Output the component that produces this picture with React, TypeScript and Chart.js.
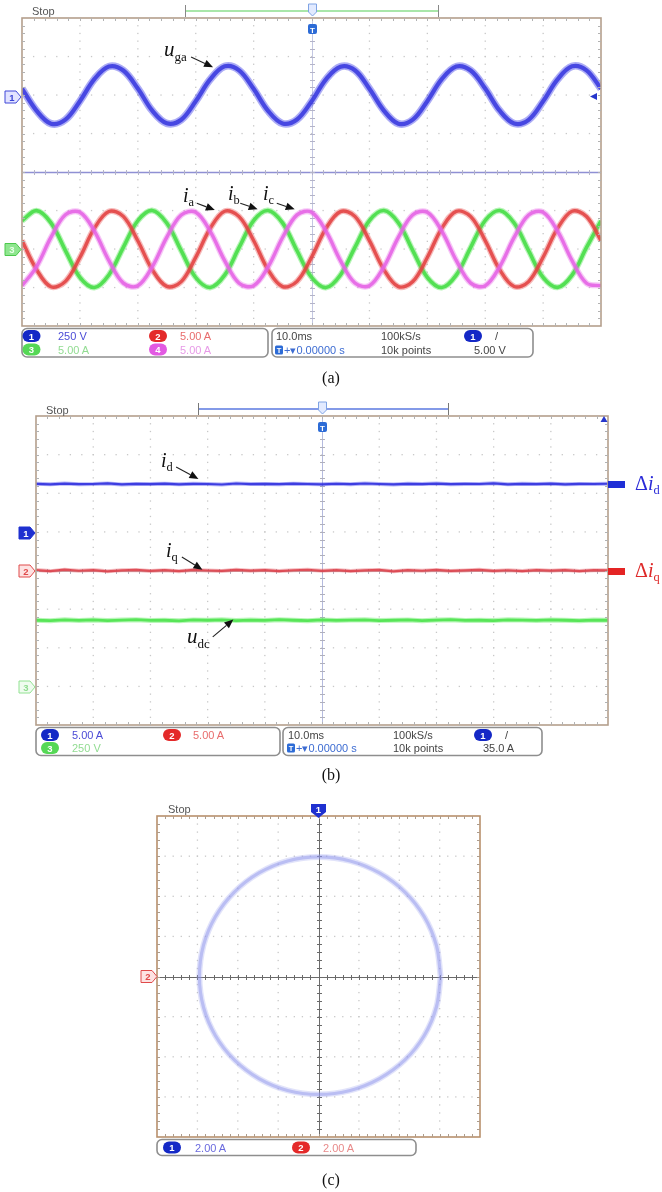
import { useEffect, useRef } from "react";
import { Chart, registerables } from "chart.js";

Chart.register(...registerables);

// Sample instants in ms (10 ms/div, 10 divisions across)
const timeMs = [0, 2.5, 5, 7.5, 10, 12.5, 15, 17.5, 20, 22.5, 25, 27.5, 30, 32.5, 35, 37.5, 40, 42.5, 45, 47.5, 50, 52.5, 55, 57.5, 60, 62.5, 65, 67.5, 70, 72.5, 75, 77.5, 80, 82.5, 85, 87.5, 90, 92.5, 95, 97.5, 100];

// (a) grid phase voltage u_ga [V], 250 V/div
const ugaVolts = [41, -101, -186, -160, -40, 103, 185, 159, 42, -102, -184, -161, -41, 101, 186, 160, 40, -103, -185, -159, -42, 102, 184, 161, 41, -101, -186, -160, -40, 103, 185, 159, 42, -102, -185, -161, -41, 101, 186, 160, 41];
// (a) phase currents [A], 5 A/div
const iaAmps = [1.09, -2.66, -4.9, -4.2, -1.1, 2.7, 4.87, 4.23, 1.07, -2.69, -4.86, -4.24, -1.08, 2.66, 4.9, 4.21, 1.11, -2.7, -4.88, -4.2, -1.09, 2.68, 4.86, 4.24, 1.08, -2.67, -4.89, -4.22, -1.1, 2.69, 4.88, 4.21, 1.09, -2.68, -4.87, -4.23, -1.07, 2.67, 4.9, 4.22, 1.1];
const ibAmps = [3.68, 4.98, 3.4, -0.2, -3.69, -5.0, -3.37, 0.22, 3.67, 5.01, 3.38, -0.21, -3.7, -4.99, -3.4, 0.2, 3.69, 5.0, 3.39, -0.23, -3.67, -5.01, -3.38, 0.21, 3.68, 4.99, 3.41, -0.2, -3.68, -5.0, -3.39, 0.22, 3.7, 5.0, 3.38, -0.21, -3.69, -4.98, -3.4, 0.2, 3.67];
const icAmps = [-4.77, -2.31, 1.5, 4.44, 4.76, 2.33, -1.49, -4.43, -4.78, -2.32, 1.51, 4.42, 4.77, 2.3, -1.5, -4.44, -4.76, -2.33, 1.49, 4.43, 4.78, 2.31, -1.51, -4.42, -4.77, -2.32, 1.5, 4.44, 4.76, 2.33, -1.48, -4.43, -4.77, -2.31, 1.5, 4.42, 4.78, 2.32, -1.5, -4.44, -4.76];

// (b) dq currents [A] and dc-link voltage [V]
const idAmps = [6.22, 6.15, 6.25, 6.18, 6.2, 6.27, 6.14, 6.21, 6.19, 6.24, 6.16, 6.22, 6.2, 6.13, 6.26, 6.19, 6.21, 6.17, 6.24, 6.2, 6.15, 6.23, 6.18, 6.26, 6.2, 6.14, 6.22, 6.19, 6.25, 6.17, 6.21, 6.2, 6.28, 6.16, 6.22, 6.19, 6.24, 6.15, 6.21, 6.2, 6.23];
const iqAmps = [0.05, -0.08, 0.1, -0.03, 0.06, -0.1, 0.02, 0.08, -0.06, 0.04, -0.09, 0.07, 0, -0.05, 0.09, -0.02, 0.05, -0.08, 0.03, 0.1, -0.04, 0.06, -0.07, 0.02, 0.08, -0.1, 0.04, -0.03, 0.07, -0.06, 0.01, 0.09, -0.05, 0.03, -0.08, 0.06, -0.02, 0.05, -0.07, 0.04, 0.02];
const udcVolts = [428, 425, 431, 427, 430, 426, 429, 432, 427, 428, 424, 430, 428, 431, 426, 429, 427, 432, 428, 425, 430, 427, 429, 431, 426, 428, 430, 425, 429, 432, 427, 428, 426, 431, 429, 427, 430, 428, 425, 429, 428];

// (c) XY trajectory of the stationary-frame currents [A], 2 A/div
const circleAlphaAmps = [6.05, 5.84, 5.24, 4.28, 3.02, 1.57, 0, -1.53, -2.95, -4.17, -5.11, -5.7, -5.9, -5.7, -5.11, -4.17, -2.95, -1.53, 0, 1.57, 3.02, 4.28, 5.24, 5.84, 6.05];
const circleBetaAmps = [0, 1.55, 2.98, 4.21, 5.16, 5.76, 5.96, 5.76, 5.16, 4.21, 2.98, 1.55, 0, -1.52, -2.94, -4.16, -5.09, -5.68, -5.88, -5.68, -5.09, -4.16, -2.94, -1.52, 0];

const SANS = "'Liberation Sans', Arial, sans-serif";
const SERIF = "'Liberation Serif', 'Times New Roman', serif";

// Oscilloscope graticule: dotted divisions, centre axes with minor ticks, frame, pointer arrows
const scopeScreen = {
  id: "scopeScreen",
  beforeDatasetsDraw(chart: any, _args: any, o: any) {
    const { ctx, chartArea: a } = chart;
    const nx = o.divX, ny = o.divY;
    const w = a.right - a.left, h = a.bottom - a.top;
    const dx = w / nx, dy = h / ny;
    ctx.save();
    ctx.fillStyle = o.dotColor;
    for (let i = 1; i < nx; i++) {
      if (i * 2 === nx) continue;
      const x = a.left + i * dx;
      for (let k = 1; k < ny * 5; k++) ctx.fillRect(x - 0.6, a.top + (k * dy) / 5 - 0.6, 1.3, 1.3);
    }
    for (let j = 1; j < ny; j++) {
      if (j * 2 === ny) continue;
      const y = a.top + j * dy;
      for (let k = 1; k < nx * 5; k++) ctx.fillRect(a.left + (k * dx) / 5 - 0.6, y - 0.6, 1.3, 1.3);
    }
    const cx = Math.round(a.left + w / 2) + 0.5;
    const cy = Math.round(a.top + h / 2) + 0.5;
    ctx.lineWidth = 1;
    ctx.strokeStyle = o.vAxisColor;
    ctx.beginPath();
    ctx.moveTo(cx, a.top);
    ctx.lineTo(cx, a.bottom);
    ctx.stroke();
    ctx.strokeStyle = o.hAxisColor;
    ctx.lineWidth = o.hAxisWidth || 1;
    ctx.beginPath();
    ctx.moveTo(a.left, cy);
    ctx.lineTo(a.right, cy);
    ctx.stroke();
    ctx.strokeStyle = o.axisTickColor;
    ctx.lineWidth = 1;
    ctx.beginPath();
    for (let k = 1; k < ny * 5; k++) {
      const y = Math.round(a.top + (k * dy) / 5) + 0.5;
      ctx.moveTo(cx - 2.5, y);
      ctx.lineTo(cx + 2.5, y);
    }
    for (let k = 1; k < nx * 5; k++) {
      const x = Math.round(a.left + (k * dx) / 5) + 0.5;
      ctx.moveTo(x, cy - 2.5);
      ctx.lineTo(x, cy + 2.5);
    }
    ctx.stroke();
    ctx.restore();
  },
  afterDatasetsDraw(chart: any, _args: any, o: any) {
    const { ctx, chartArea: a, scales } = chart;
    const nx = o.divX, ny = o.divY;
    const w = a.right - a.left, h = a.bottom - a.top;
    const dx = w / nx, dy = h / ny;
    ctx.save();
    ctx.strokeStyle = o.frameColor;
    ctx.lineWidth = 1.6;
    ctx.strokeRect(a.left, a.top, w, h);
    ctx.lineWidth = 1;
    ctx.beginPath();
    for (let k = 1; k < nx * 5; k++) {
      const x = Math.round(a.left + (k * dx) / 5) + 0.5;
      ctx.moveTo(x, a.top);
      ctx.lineTo(x, a.top + 3);
      ctx.moveTo(x, a.bottom);
      ctx.lineTo(x, a.bottom - 3);
    }
    for (let k = 1; k < ny * 5; k++) {
      const y = Math.round(a.top + (k * dy) / 5) + 0.5;
      ctx.moveTo(a.left, y);
      ctx.lineTo(a.left + 3, y);
      ctx.moveTo(a.right, y);
      ctx.lineTo(a.right - 3, y);
    }
    ctx.strokeStyle = o.tickColor;
    ctx.stroke();
    for (const ar of o.arrows || []) {
      const x1 = scales.x.getPixelForValue(ar.from[0]);
      const y1 = scales.y.getPixelForValue(ar.from[1]);
      const x2 = scales.x.getPixelForValue(ar.to[0]);
      const y2 = scales.y.getPixelForValue(ar.to[1]);
      const ang = Math.atan2(y2 - y1, x2 - x1);
      const hl = 9, hw = 3.8;
      const bx = x2 - hl * Math.cos(ang), by = y2 - hl * Math.sin(ang);
      ctx.strokeStyle = "#222";
      ctx.lineWidth = 1.1;
      ctx.beginPath();
      ctx.moveTo(x1, y1);
      ctx.lineTo(bx, by);
      ctx.stroke();
      ctx.fillStyle = "#111";
      ctx.beginPath();
      ctx.moveTo(x2, y2);
      ctx.lineTo(bx - hw * Math.sin(ang), by + hw * Math.cos(ang));
      ctx.lineTo(bx + hw * Math.sin(ang), by - hw * Math.cos(ang));
      ctx.closePath();
      ctx.fill();
    }
    ctx.restore();
  },
};

function toTrace(xs: number[], ys: number[], perDiv: number, offsetDiv: number) {
  return xs.map((x, i) => ({ x, y: ys[i] / perDiv + offsetDiv }));
}

// A noisy scope trace: soft outer band plus a denser core
function band(data: any[], core: string, halo: string, wCore: number, wHalo: number, tension: number) {
  return [
    { data, borderColor: halo, borderWidth: wHalo, tension, pointRadius: 0, clip: 0, fill: false, showLine: true },
    { data, borderColor: core, borderWidth: wCore, tension, pointRadius: 0, clip: 0, fill: false, showLine: true },
  ];
}

function scopeOptions(padding: any, xr: number[], yr: number[], screen: any) {
  return {
    animation: false,
    responsive: false,
    events: [],
    layout: { padding },
    elements: { point: { radius: 0 } },
    scales: {
      x: { type: "linear", min: xr[0], max: xr[1], display: false },
      y: { type: "linear", min: yr[0], max: yr[1], display: false },
    },
    plugins: { legend: { display: false }, tooltip: { enabled: false }, scopeScreen: screen },
  };
}

function configA() {
  const uga = toTrace(timeMs, ugaVolts, 250, 2);
  const ia = toTrace(timeMs, iaAmps, 5, -2);
  const ib = toTrace(timeMs, ibAmps, 5, -2);
  const ic = toTrace(timeMs, icAmps, 5, -2);
  return {
    type: "line",
    data: {
      datasets: [
        ...band(uga, "rgba(40,40,214,0.85)", "rgba(70,70,232,0.45)", 4.2, 7.5, 0.36),
        ...band(ic, "rgba(226,84,226,0.88)", "rgba(234,118,234,0.42)", 3.4, 6, 0.36),
        ...band(ia, "rgba(222,46,46,0.88)", "rgba(234,92,92,0.42)", 3.4, 6, 0.36),
        ...band(ib, "rgba(54,214,54,0.9)", "rgba(96,230,96,0.45)", 3.6, 6, 0.36),
      ],
    },
    options: scopeOptions({ left: 22, right: 61, top: 18, bottom: 6 }, [0, 100], [-4, 4], {
      divX: 10, divY: 8,
      dotColor: "#c8c8c8", vAxisColor: "#c3c7e2", hAxisColor: "#8f90d4", hAxisWidth: 1.3,
      axisTickColor: "#b4b4c8",
      frameColor: "#b49f8c", tickColor: "#b2b2b2",
      arrows: [
        { from: [29.2, 2.99], to: [33.0, 2.72] },
        { from: [30.2, -0.81], to: [33.3, -0.99] },
        { from: [37.7, -0.81], to: [40.7, -0.97] },
        { from: [44.0, -0.81], to: [47.1, -0.97] },
      ],
    }),
    plugins: [scopeScreen],
  };
}

function configB() {
  const id = toTrace(timeMs, idAmps, 5, 1);
  const iq = toTrace(timeMs, iqAmps, 5, 0);
  const udc = toTrace(timeMs, udcVolts, 250, -3);
  return {
    type: "line",
    data: {
      datasets: [
        ...band(id, "rgba(36,36,214,0.9)", "rgba(70,70,235,0.4)", 2.2, 4, 0),
        ...band(iq, "rgba(214,52,62,0.9)", "rgba(230,90,100,0.4)", 2.2, 4, 0),
        ...band(udc, "rgba(64,222,64,0.92)", "rgba(100,235,100,0.45)", 2.8, 5, 0),
      ],
    },
    options: scopeOptions({ left: 36, right: 54, top: 26, bottom: 5 }, [0, 100], [-4, 4], {
      divX: 10, divY: 8,
      dotColor: "#c8c8c8", vAxisColor: "#b4bade", hAxisColor: "#bdbdbd",
      axisTickColor: "#b0b0bc",
      frameColor: "#b49f8c", tickColor: "#b2b2b2",
      arrows: [
        { from: [24.5, 2.68], to: [28.4, 2.37] },
        { from: [25.5, 0.35], to: [29.1, 0.02] },
        { from: [30.9, -1.72], to: [34.5, -1.27] },
      ],
    }),
    plugins: [scopeScreen],
  };
}

function configC() {
  const loop = circleAlphaAmps.map((x, i) => ({ x, y: circleBetaAmps[i] }));
  return {
    type: "scatter",
    data: {
      datasets: band(loop, "rgba(132,138,232,0.45)", "rgba(156,162,238,0.3)", 3.2, 6, 0.36),
    },
    options: scopeOptions({ left: 157, right: 182, top: 26, bottom: 5 }, [-8, 8], [-8, 8], {
      divX: 8, divY: 8,
      dotColor: "#c8c8c8", vAxisColor: "#6a6a6a", hAxisColor: "#6a6a6a",
      axisTickColor: "#6a6a6a",
      frameColor: "#b8906c", tickColor: "#ad9c8c",
      arrows: [],
    }),
    plugins: [scopeScreen],
  };
}

function ScopeCanvas({ top, height, make }: { top: number; height: number; make: () => any }) {
  const ref = useRef<HTMLCanvasElement>(null);
  useEffect(() => {
    const chart = new Chart(ref.current as HTMLCanvasElement, make() as any);
    return () => chart.destroy();
  }, []);
  return (
    <canvas
      ref={ref}
      width={662}
      height={height}
      style={{ position: "absolute", left: 0, top, width: 662, height, display: "block" }}
    />
  );
}

function Badge({ cx, cy, fill, label }: { cx: number; cy: number; fill: string; label: string }) {
  return (
    <g>
      <rect x={cx - 9} y={cy - 6} width={18} height={12} rx={6} fill={fill} />
      <text x={cx} y={cy + 3.5} textAnchor="middle" fontSize={9.5} fontWeight="bold" fill="#fff" fontFamily={SANS}>
        {label}
      </text>
    </g>
  );
}

function RightMarker({ x, cy, fill, stroke, color, label }: any) {
  const pts = `${x},${cy - 6} ${x + 11},${cy - 6} ${x + 16},${cy} ${x + 11},${cy + 6} ${x},${cy + 6}`;
  return (
    <g>
      <polygon points={pts} fill={fill} stroke={stroke} strokeWidth={1} />
      <text x={x + 7} y={cy + 3.5} textAnchor="middle" fontSize={9.5} fontWeight="bold" fill={color} fontFamily={SANS}>
        {label}
      </text>
    </g>
  );
}

function TrigMarker({ cx, top }: { cx: number; top: number }) {
  return (
    <g>
      <polygon
        points={`${cx - 4},${top} ${cx + 4},${top} ${cx + 4},${top + 8} ${cx},${top + 12} ${cx - 4},${top + 8}`}
        fill="#e2eaff"
        stroke="#7fa3e4"
        strokeWidth={1}
      />
      <rect x={cx - 4.5} y={top + 20} width={9} height={10} rx={2} fill="#2c6bd6" />
      <text x={cx} y={top + 28.5} textAnchor="middle" fontSize={8} fontWeight="bold" fill="#fff" fontFamily={SANS}>
        T
      </text>
    </g>
  );
}

function TimeTag({ x, y }: { x: number; y: number }) {
  return (
    <g>
      <rect x={x} y={y - 8.5} width={8} height={9} rx={1.5} fill="#2c6bd6" />
      <text x={x + 4} y={y - 1} textAnchor="middle" fontSize={7.5} fontWeight="bold" fill="#fff" fontFamily={SANS}>
        T
      </text>
      <text x={x + 9} y={y} fontSize={11} fill="#3d6cd2" fontFamily={SANS}>
        +▾0.00000 s
      </text>
    </g>
  );
}

function Sub({ x, y, main, sub, italic = true, size = 20, color = "#111", pre }: any) {
  return (
    <text x={x} y={y} fontFamily={SERIF} fontSize={size} fill={color}>
      {pre ? <tspan>{pre}</tspan> : null}
      <tspan fontStyle={italic ? "italic" : "normal"}>{main}</tspan>
      <tspan fontSize={size * 0.62} dy={size * 0.22}>
        {sub}
      </tspan>
    </text>
  );
}

function Overlay() {
  const txt = { fontFamily: SANS, fontSize: 11 } as any;
  return (
    <svg width={662} height={1192} style={{ position: "absolute", left: 0, top: 0, pointerEvents: "none" }}>
      {/* panel (a) */}
      <text x={32} y={15} {...txt} fill="#555">Stop</text>
      <line x1={185} y1={11} x2={438} y2={11} stroke="#a9e6a9" strokeWidth={2} />
      <line x1={185.5} y1={5} x2={185.5} y2={17} stroke="#888" strokeWidth={1} />
      <line x1={438.5} y1={5} x2={438.5} y2={17} stroke="#888" strokeWidth={1} />
      <TrigMarker cx={312.5} top={4} />
      <RightMarker x={5} cy={97} fill="#e2e3ff" stroke="#4049d8" color="#3a44d6" label="1" />
      <RightMarker x={5} cy={249.5} fill="#8fe68f" stroke="#4cc84c" color="#e9ffe9" label="3" />
      <polygon points="590,96.5 597,93 597,100" fill="#2636cc" />
      <Sub x={164} y={56} main="u" sub="ga" size={21} />
      <Sub x={183} y={202} main="i" sub="a" size={20} />
      <Sub x={228} y={200} main="i" sub="b" size={20} />
      <Sub x={263} y={200} main="i" sub="c" size={20} />

      <rect x={22} y={328.5} width={246} height={28.5} rx={5} fill="#fff" stroke="#8e8e8e" strokeWidth={1.6} />
      <rect x={272} y={328.5} width={261} height={28.5} rx={5} fill="#fff" stroke="#8e8e8e" strokeWidth={1.6} />
      <Badge cx={31.5} cy={336} fill="#1428c6" label="1" />
      <text x={58} y={340} {...txt} fill="#4b4bd6">250 V</text>
      <Badge cx={158} cy={336} fill="#e42a2a" label="2" />
      <text x={180} y={340} {...txt} fill="#e86c6c">5.00 A</text>
      <Badge cx={31.5} cy={349.5} fill="#56d856" label="3" />
      <text x={58} y={354} {...txt} fill="#92dc92">5.00 A</text>
      <Badge cx={158} cy={349.5} fill="#e25ae2" label="4" />
      <text x={180} y={354} {...txt} fill="#e79ae7">5.00 A</text>
      <text x={276} y={340} {...txt} fill="#444">10.0ms</text>
      <TimeTag x={275} y={354} />
      <text x={381} y={340} {...txt} fill="#444">100kS/s</text>
      <text x={381} y={354} {...txt} fill="#444">10k points</text>
      <Badge cx={473} cy={336} fill="#1428c6" label="1" />
      <text x={495} y={340} {...txt} fill="#444">/</text>
      <text x={474} y={354} {...txt} fill="#444">5.00 V</text>
      <text x={331} y={383} textAnchor="middle" fontFamily={SERIF} fontSize={16} fill="#111">(a)</text>

      {/* panel (b) */}
      <text x={46} y={414} {...txt} fill="#555">Stop</text>
      <line x1={198} y1={409} x2={448} y2={409} stroke="#5a78e0" strokeWidth={1.5} />
      <line x1={198.5} y1={403} x2={198.5} y2={415} stroke="#777" strokeWidth={1} />
      <line x1={448.5} y1={403} x2={448.5} y2={415} stroke="#777" strokeWidth={1} />
      <TrigMarker cx={322.5} top={402} />
      <polygon points="600.5,422 607.5,422 604,416" fill="#2636cc" />
      <RightMarker x={19} cy={533} fill="#1f30d0" stroke="#1f30d0" color="#fff" label="1" />
      <RightMarker x={19} cy={571} fill="#fde2e2" stroke="#e04a4a" color="#e04a4a" label="2" />
      <RightMarker x={19} cy={687} fill="#effcef" stroke="#92e292" color="#8fdc8f" label="3" />
      <rect x={608} y={481} width={17} height={7} fill="#1f2fd6" />
      <rect x={608} y={568} width={17} height={7} fill="#e42424" />
      <Sub x={635} y={490} pre="Δ" main="i" sub="d" size={20} color="#2a2ad8" />
      <Sub x={635} y={577} pre="Δ" main="i" sub="q" size={20} color="#de2a2a" />
      <Sub x={161} y={467} main="i" sub="d" size={20} />
      <Sub x={166} y={557} main="i" sub="q" size={20} />
      <Sub x={187} y={643} main="u" sub="dc" size={21} />

      <rect x={36} y={727.5} width={244} height={28} rx={5} fill="#fff" stroke="#8e8e8e" strokeWidth={1.6} />
      <rect x={283} y={727.5} width={259} height={28} rx={5} fill="#fff" stroke="#8e8e8e" strokeWidth={1.6} />
      <Badge cx={50} cy={735} fill="#1428c6" label="1" />
      <text x={72} y={739} {...txt} fill="#4b4bd6">5.00 A</text>
      <Badge cx={172} cy={735} fill="#e42a2a" label="2" />
      <text x={193} y={739} {...txt} fill="#e86c6c">5.00 A</text>
      <Badge cx={50} cy={748} fill="#56d856" label="3" />
      <text x={72} y={752} {...txt} fill="#92dc92">250 V</text>
      <text x={288} y={739} {...txt} fill="#444">10.0ms</text>
      <TimeTag x={287} y={752} />
      <text x={393} y={739} {...txt} fill="#444">100kS/s</text>
      <text x={393} y={752} {...txt} fill="#444">10k points</text>
      <Badge cx={483} cy={735} fill="#1428c6" label="1" />
      <text x={505} y={739} {...txt} fill="#444">/</text>
      <text x={483} y={752} {...txt} fill="#444">35.0 A</text>
      <text x={331} y={780} textAnchor="middle" fontFamily={SERIF} fontSize={16} fill="#111">(b)</text>

      {/* panel (c) */}
      <text x={168} y={813} {...txt} fill="#555">Stop</text>
      <polygon points="311,804 326,804 326,812 318.5,818 311,812" fill="#1f30d0" />
      <text x={318.5} y={813} textAnchor="middle" fontSize={9.5} fontWeight="bold" fill="#fff" fontFamily={SANS}>1</text>
      <RightMarker x={141} cy={976.5} fill="#fde2e2" stroke="#e04a4a" color="#e04a4a" label="2" />
      <rect x={157} y={1139.5} width={259} height={16} rx={5} fill="#fff" stroke="#8e8e8e" strokeWidth={1.6} />
      <Badge cx={172} cy={1147.5} fill="#1428c6" label="1" />
      <text x={195} y={1151.5} {...txt} fill="#6a6ade">2.00 A</text>
      <Badge cx={301} cy={1147.5} fill="#e42a2a" label="2" />
      <text x={323} y={1151.5} {...txt} fill="#e88a8a">2.00 A</text>
      <text x={331} y={1185} textAnchor="middle" fontFamily={SERIF} fontSize={16} fill="#111">(c)</text>
    </svg>
  );
}

export default function App() {
  return (
    <div style={{ position: "absolute", left: 0, top: 0, width: 662, height: 1192, background: "#fff", overflow: "hidden" }}>
      <ScopeCanvas top={0} height={332} make={configA} />
      <ScopeCanvas top={390} height={340} make={configB} />
      <ScopeCanvas top={790} height={352} make={configC} />
      <Overlay />
    </div>
  );
}
